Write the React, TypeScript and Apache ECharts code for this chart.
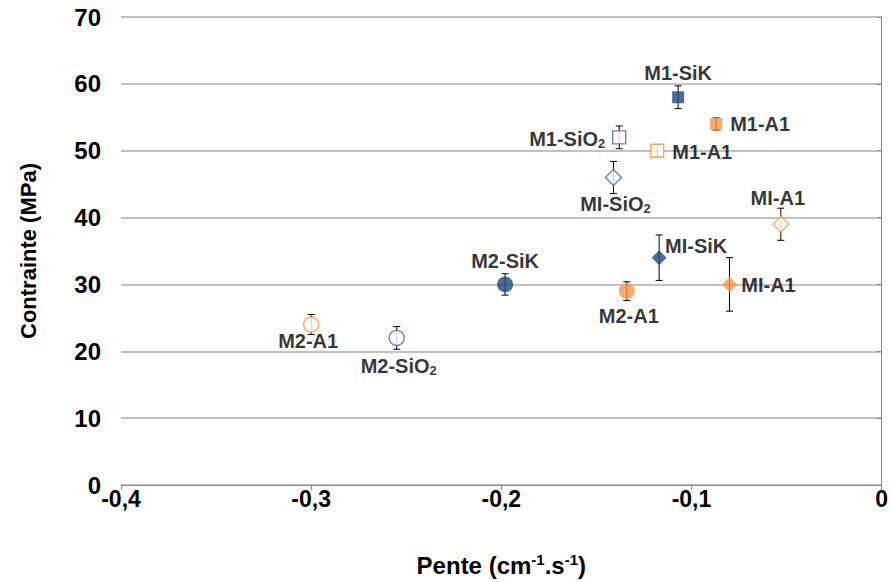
import React, { useEffect, useRef } from "react";
import * as echarts from "echarts";

// ---- Data ----
const labels = [
  "M1-SiK", "M1-A1", "M1-SiO2", "M1-A1", "MI-SiO2", "MI-A1",
  "MI-SiK", "MI-A1", "M2-SiK", "M2-A1", "M2-A1", "M2-SiO2",
];
const pente = [-0.107, -0.087, -0.138, -0.118, -0.141, -0.053, -0.117, -0.080, -0.198, -0.134, -0.300, -0.255];
const contrainte = [58, 54, 52, 50, 46, 39, 34, 30, 30, 29, 24, 22];
const erreur = [1.7, 0.9, 1.7, 0.9, 2.4, 2.4, 3.4, 4.0, 1.6, 1.4, 1.5, 1.7];

// ---- Styles ----
const BLUE = "#1f497d";
const BLUE_OPEN = "#41699e";
const ORANGE = "#f79646";
const FONT = "'Liberation Sans', Arial, sans-serif";

const markerStyles = [
  { sym: "rect", size: 12, color: BLUE, fill: true, off: [0, -24] },
  { sym: "rect", size: 12, color: ORANGE, fill: true, off: [44, 0] },
  { sym: "rect", size: 13, color: BLUE_OPEN, fill: false, off: [-52, 2] },
  { sym: "rect", size: 13, color: ORANGE, fill: false, off: [45, 1] },
  { sym: "diamond", size: 16, color: BLUE_OPEN, fill: false, off: [2, 27] },
  { sym: "diamond", size: 16, color: ORANGE, fill: false, off: [-3, -26] },
  { sym: "diamond", size: 15, color: BLUE, fill: true, off: [37, -12] },
  { sym: "diamond", size: 15, color: ORANGE, fill: true, off: [39, 1] },
  { sym: "circle", size: 16, color: BLUE, fill: true, off: [0, -23] },
  { sym: "circle", size: 16, color: ORANGE, fill: true, off: [2, 25] },
  { sym: "circle", size: 15, color: ORANGE, fill: false, off: [-3, 16] },
  { sym: "circle", size: 15, color: BLUE_OPEN, fill: false, off: [2, 28] },
];

function fmtLabel(name: string): string {
  if (/O2$/.test(name)) return "{a|" + name.slice(0, -1) + "}{s|2}";
  return "{a|" + name + "}";
}

export default function App() {
  const ref = useRef<HTMLDivElement>(null);
  useEffect(() => {
    if (!ref.current) return;
    const chart = echarts.init(ref.current, null, { renderer: "svg" });

    const scatterData = labels.map((name, i) => {
      const m = markerStyles[i];
      return {
        name,
        value: [pente[i], contrainte[i]],
        symbol: m.sym,
        symbolSize: m.size,
        itemStyle: {
          color: m.fill ? m.color : "#ffffff",
          borderColor: m.color,
          borderWidth: m.fill ? 0 : 1.4,
        },
        label: { offset: m.off },
      };
    });
    const errData = labels.map((_, i) => [pente[i], contrainte[i] - erreur[i], contrainte[i] + erreur[i]]);

    chart.setOption({
      animation: false,
      backgroundColor: "#ffffff",
      textStyle: { fontFamily: FONT },
      grid: { left: 121, right: 7, top: 17, bottom: 97, containLabel: false },
      xAxis: {
        type: "value",
        min: -0.4,
        max: 0,
        interval: 0.1,
        name: "{a|Pente (cm}{sup|-1}{a|.s}{sup|-1}{a|)}",
        nameLocation: "middle",
        nameGap: 67,
        nameTextStyle: {
          rich: {
            a: { fontSize: 24, fontWeight: "bold", color: "#000", fontFamily: FONT, lineHeight: 26 },
            sup: { fontSize: 15, fontWeight: "bold", color: "#000", fontFamily: FONT, verticalAlign: "top", lineHeight: 14 },
          },
        },
        axisLine: { onZero: false, lineStyle: { color: "#888888", width: 1 } },
        axisTick: { show: true, length: 5, lineStyle: { color: "#888888" } },
        splitLine: { show: false },
        axisLabel: {
          margin: 7,
          fontSize: 23,
          lineHeight: 14,
          fontWeight: "bold",
          color: "#000",
          fontFamily: FONT,
          formatter: (v: number) => (Math.abs(v) < 1e-9 ? "0" : v.toFixed(1).replace(".", ",")),
        },
      },
      yAxis: {
        type: "value",
        min: 0,
        max: 70,
        interval: 10,
        name: "Contrainte (MPa)",
        nameLocation: "middle",
        nameGap: 82,
        nameTextStyle: { fontSize: 22, fontWeight: "bold", color: "#000", fontFamily: FONT },
        axisLine: { show: true, lineStyle: { color: "#888888", width: 1 } },
        axisTick: { show: true, length: 5, lineStyle: { color: "#888888" } },
        splitLine: { show: true, lineStyle: { color: "#acacac", width: 1.5 } },
        axisLabel: { margin: 20, fontSize: 24, lineHeight: 14, fontWeight: "bold", color: "#000", fontFamily: FONT },
      },
      series: [
        {
          type: "custom",
          z: 1,
          data: errData,
          encode: { x: 0, y: [1, 2] },
          renderItem: (params: any, api: any) => {
            const x = api.value(0);
            const lo = api.value(1);
            const hi = api.value(2);
            const p1 = api.coord([x, hi]);
            const p2 = api.coord([x, lo]);
            const w = 3.5;
            const st = { stroke: "#000", lineWidth: 1 };
            return {
              type: "group",
              children: [
                { type: "line", z2: 0, shape: { x1: p1[0], y1: p1[1], x2: p2[0], y2: p2[1] }, style: st },
                { type: "line", z2: 0, shape: { x1: p1[0] - w, y1: p1[1], x2: p1[0] + w, y2: p1[1] }, style: st },
                { type: "line", z2: 0, shape: { x1: p2[0] - w, y1: p2[1], x2: p2[0] + w, y2: p2[1] }, style: st },
              ],
            };
          },
        },
        {
          type: "scatter",
          z: 10,
          data: scatterData,
          label: {
            show: true,
            position: "inside",
            formatter: (p: any) => fmtLabel(p.name),
            rich: {
              a: { fontSize: 20, fontWeight: "bold", color: "#000", fontFamily: FONT, lineHeight: 22 },
              s: { fontSize: 13, fontWeight: "bold", color: "#000", fontFamily: FONT, verticalAlign: "bottom", lineHeight: 12 },
            },
          },
        },
      ],
    });
    return () => chart.dispose();
  }, []);
  return (
    <div
      ref={ref}
      style={{ position: "absolute", left: 0, top: 0, width: 891, height: 582, background: "#fff" }}
    />
  );
}
